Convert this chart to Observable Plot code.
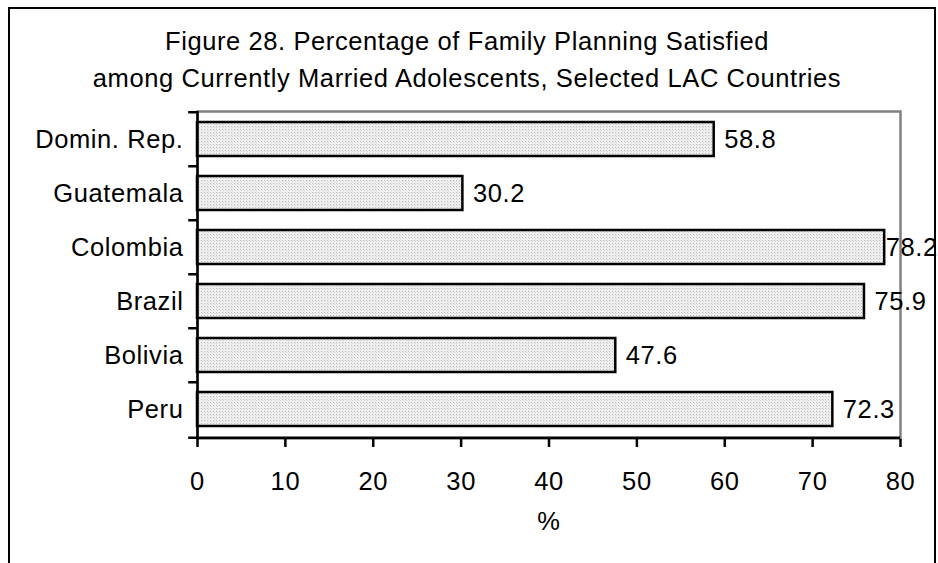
<!DOCTYPE html>
<html>
<head>
<meta charset="utf-8">
<script src="https://cdn.jsdelivr.net/npm/d3@7"></script>
<script src="https://cdn.jsdelivr.net/npm/@observablehq/plot@0.6"></script>
<style>
  html, body { margin: 0; padding: 0; background: #fff; overflow: hidden; }
  #wrap { position: relative; width: 938px; height: 563px; font-family: "Liberation Sans", Arial, sans-serif; }
  #border { position: absolute; left: 8px; top: 7px; width: 928px; height: 580px; border: 2.5px solid #000; border-bottom: none; box-sizing: border-box; }
  .title { position: absolute; left: 0; width: 934px; text-align: center; font-size: 25.5px; letter-spacing: 0.6px; color: #000; line-height: 26px; white-space: nowrap; }
  #chart { position: absolute; left: 0; top: 0; }
</style>
</head>
<body>
<div id="wrap">
  <div id="border"></div>
  <div class="title" style="top:28px">Figure 28. Percentage of Family Planning Satisfied</div>
  <div class="title" style="top:65px">among Currently Married Adolescents, Selected LAC Countries</div>
  <div id="chart"></div>
</div>
<script>
const countries = ["Domin. Rep.", "Guatemala", "Colombia", "Brazil", "Bolivia", "Peru"];
const values = [58.8, 30.2, 78.2, 75.9, 47.6, 72.3];
const xTicks = [0, 10, 20, 30, 40, 50, 60, 70, 80];

const data = countries.map((c, i) => ({country: c, value: values[i]}));

const marginTop = 111, marginBottom = 125, H = 563;
const step = (H - marginTop - marginBottom) / countries.length;
const last = countries[countries.length - 1];

const chart = Plot.plot({
  width: 938,
  height: H,
  marginTop,
  marginBottom,
  marginLeft: 197,
  marginRight: 38,
  style: {fontFamily: "Liberation Sans, Arial, sans-serif", fontSize: "25.5px", letterSpacing: "0.6px", color: "#000", background: "transparent", overflow: "visible"},
  x: {domain: [0, 80], ticks: xTicks, label: null},
  y: {domain: countries, paddingInner: 0.37, paddingOuter: 0.185, label: null},
  marks: [
    Plot.frame({stroke: "#808080", strokeWidth: 2.5}),
    Plot.barX(data, {x: "value", y: "country", fill: "url(#dots)", stroke: "#000", strokeWidth: 2.5}),
    Plot.text(data.filter(d => d.value < 77), {x: "value", y: "country", text: d => d.value.toFixed(1), textAnchor: "start", dx: 10, fontSize: 25.5, fill: "#000"}),
    Plot.text(data.filter(d => d.value >= 77), {x: "value", y: "country", text: d => d.value.toFixed(1), textAnchor: "start", dx: 1, fontSize: 25.5, fill: "#000", letterSpacing: "0px"}),
    Plot.ruleX([0], {stroke: "#000", strokeWidth: 2.5}),
    Plot.ruleY([last], {y: d => d, dy: step / 2 + 1, x1: 0, x2: 80, stroke: "#000", strokeWidth: 2.5}),
    Plot.ruleY(countries, {y: d => d, dy: -step / 2, x1: -1, x2: 0, stroke: "#000", strokeWidth: 2.5}),
    Plot.ruleY([last], {y: d => d, dy: step / 2 + 1, x1: -1, x2: 0, stroke: "#000", strokeWidth: 2.5}),
    Plot.axisY({tickSize: 0, tickPadding: 14, fontSize: 25.5, label: null}),
    Plot.axisX({ticks: xTicks, tickSize: 8, tickPadding: 24, fontSize: 25.5, label: null, stroke: "#000", strokeWidth: 2.5, dy: 1}),
    Plot.text(["%"], {frameAnchor: "bottom", text: d => d, dy: 91, fontSize: 25.5, fill: "#000"})
  ]
});

// light dotted fill pattern for the bars
const ns = "http://www.w3.org/2000/svg";
const defs = document.createElementNS(ns, "defs");
defs.innerHTML = '<pattern id="dots" width="3" height="3" patternUnits="userSpaceOnUse">' +
  '<rect width="3" height="3" fill="#efefef"/>' +
  '<rect width="1" height="1" fill="#bdbdbd"/>' +
  '<rect x="1" y="1" width="1" height="1" fill="#d6d6d6"/></pattern>';
chart.insertBefore(defs, chart.firstChild);

document.getElementById("chart").appendChild(chart);
</script>
</body>
</html>
